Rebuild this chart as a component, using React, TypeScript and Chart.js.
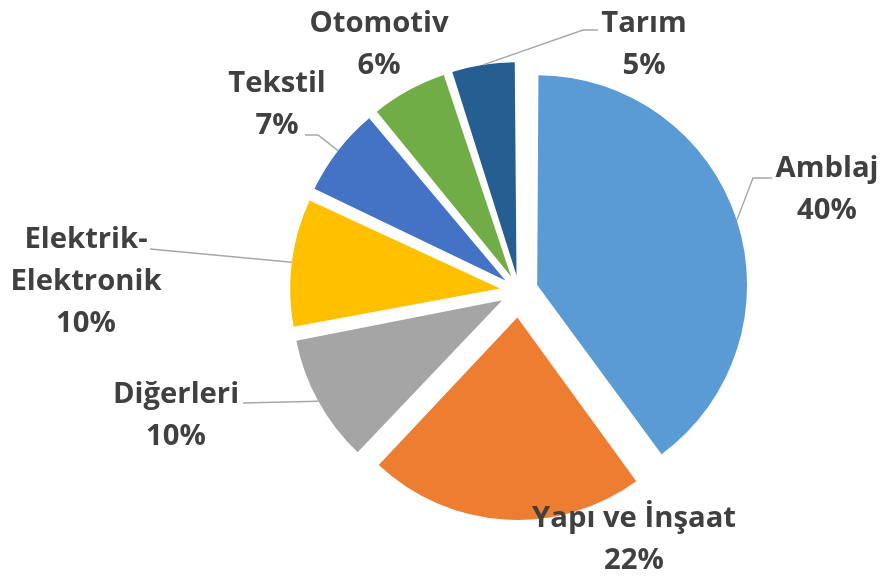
import React, { useEffect, useRef } from "react";
import { Chart, registerables } from "chart.js";

Chart.register(...registerables);

const categories = ["Amblaj", "Yapı ve İnşaat", "Diğerleri", "Elektrik-\nElektronik", "Tekstil", "Otomotiv", "Tarım"];
const shares = [40, 22, 10, 10, 7, 6, 5];
const colors = ["#5B9BD5", "#ED7D31", "#A5A5A5", "#FFC000", "#4472C4", "#70AD47", "#255E91"];

// label anchors (relative to pie center, px): [dx, dy of first baseline]
const labelPos: [number, number][] = [
  [308, -114],
  [115, 236],
  [-343, 112],
  [-433, -43],
  [-242, -199],
  [-140, -259],
  [125, -259],
];
// leader line points after arc edge (relative to pie center)
const leaderPts: [number, number][][] = [
  [[234, -113], [253, -113]],
  [],
  [[-276, 112]],
  [[-369, -42]],
  [[-201, -156], [-214, -156]],
  [],
  [[64, -261], [79, -261]],
];

const EXPLODE_EXTENT = 27; // outward extent added to base radius
const RADIUS = 202;
const LINE_H = 42;
const FONT_PX = 28;
const SCALE_X = 1.045;

function arcShift(offset: number, circ: number) {
  const fix = 1 - Math.sin(Math.min(Math.PI, circ));
  return (offset / 4) * (1 + fix);
}

const labelPlugin = {
  id: "pieLabels",
  afterDatasetsDraw(chart: any) {
    const ctx = chart.ctx as CanvasRenderingContext2D;
    const meta = chart.getDatasetMeta(0);
    const total = shares.reduce((a, b) => a + b, 0);
    meta.data.forEach((arc: any, i: number) => {
      const { x, y, startAngle, endAngle, outerRadius } = arc.getProps(["x", "y", "startAngle", "endAngle", "outerRadius"], true);
      const mid = (startAngle + endAngle) / 2;
      const off = arc.options.offset || 0;
      const t = arcShift(off, endAngle - startAngle);
      const ex = x + (t + outerRadius) * Math.cos(mid);
      const ey = y + (t + outerRadius) * Math.sin(mid);
      const pts = leaderPts[i];
      if (pts.length) {
        ctx.save();
        ctx.strokeStyle = "#A6A6A6";
        ctx.lineWidth = 1.4;
        ctx.beginPath();
        ctx.moveTo(ex, ey);
        pts.forEach(([dx, dy]) => ctx.lineTo(x + dx, y + dy));
        ctx.stroke();
        ctx.restore();
      }
      const lines = categories[i].split("\n");
      lines.push(Math.round((shares[i] / total) * 100) + "%");
      const [lx, ly] = labelPos[i];
      ctx.save();
      ctx.fillStyle = "#404040";
      ctx.font = `bold ${FONT_PX}px "Open Sans", sans-serif`;
      ctx.textAlign = "center";
      ctx.textBaseline = "alphabetic";
      lines.forEach((ln, k) => {
        ctx.save();
        ctx.translate(x + lx, y + ly + k * LINE_H);
        ctx.scale(SCALE_X, 1);
        ctx.fillText(ln, 0, 0);
        ctx.restore();
      });
      ctx.restore();
    });
  },
};

export default function App() {
  const ref = useRef<HTMLCanvasElement | null>(null);
  useEffect(() => {
    if (!ref.current) return;
    const total = shares.reduce((a, b) => a + b, 0);
    const chart = new Chart(ref.current, {
      type: "pie",
      data: {
        labels: categories,
        datasets: [
          {
            data: shares,
            backgroundColor: colors,
            borderWidth: 0,
            radius: RADIUS,
            offset: (c: any) => {
              const circ = (shares[c.dataIndex] / total) * Math.PI * 2;
              const fix = 1 - Math.sin(Math.min(Math.PI, circ));
              return (EXPLODE_EXTENT * 4) / (1 + fix);
            },
          } as any,
        ],
      },
      options: {
        responsive: false,
        animation: false,
        layout: { padding: { left: 156, right: 0, top: 5, bottom: 0 } },
        plugins: { legend: { display: false }, tooltip: { enabled: false } },
      },
      plugins: [labelPlugin],
    });
    return () => chart.destroy();
  }, []);
  return (
    <div style={{ position: "absolute", left: 0, top: 0, width: 882, height: 577, background: "#fff" }}>
      <canvas ref={ref} width={882} height={577} />
    </div>
  );
}
